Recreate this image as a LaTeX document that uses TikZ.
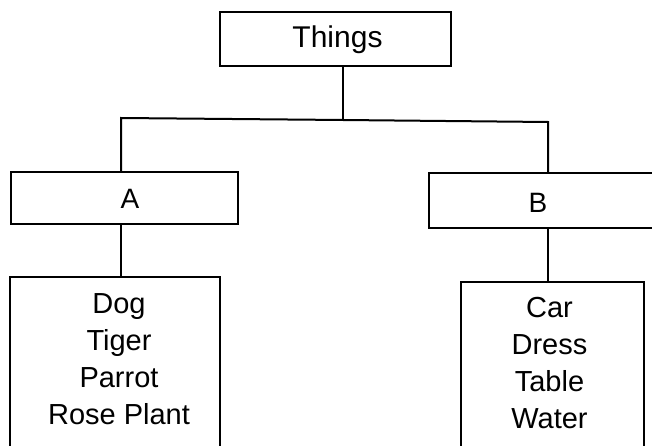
\documentclass[tikz,border=0pt]{standalone}
\usepackage{fontspec}
\setmainfont{Liberation Sans}
\tikzset{
  box/.style={draw=black, line width=2pt, inner sep=0pt, fill=white},
  lbl/.style={align=center, inner sep=0pt, anchor=base},
  big/.style={font=\fontsize{30}{36}\selectfont},
  mid/.style={font=\fontsize{28}{32}\selectfont},
  lst/.style={font=\fontsize{29}{37}\selectfont},
  conn/.style={draw=black, line width=2pt}
}
\begin{document}
\begin{tikzpicture}[x=1pt,y=-1pt]
\useasboundingbox (0,0) rectangle (652,446);
\clip (0,0) rectangle (652,446);
\node[box, minimum width=231pt, minimum height=54pt] (things) at (335.5,39) {};
\node[lbl, big] (thingst) at (337.5,48) {Things};
\node[box, minimum width=227pt, minimum height=52pt] (a) at (124.5,198) {};
\node[lbl, mid] (at) at (130,208) {A};
\node[box, minimum width=231pt, minimum height=55pt] (b) at (544.5,200.5) {};
\node[lbl, mid] (bt) at (538,212) {B};
\node[box, minimum width=210pt, minimum height=200pt] (l) at (115,377) {};
\node[lbl, lst] (lt) at (119,424) {Dog\\Tiger\\Parrot\\Rose Plant};
\node[box, minimum width=183pt, minimum height=200pt] (r) at (552.5,382) {};
\node[lbl, lst] (rt) at (549.5,428) {Car\\Dress\\Table\\Water};
\coordinate (jl) at (121,118);
\coordinate (jm) at (343,120);
\coordinate (jr) at (548,122);
\draw[conn] (things.south -| jm) -- (jm);
\draw[conn] (a.north -| jl) -- (jl) -- (jm) -- (jr) -- (b.north -| jr);
\draw[conn] (a.south -| jl) -- (l.north -| jl);
\draw[conn] (b.south -| jr) -- (r.north -| jr);
\end{tikzpicture}
\end{document}
